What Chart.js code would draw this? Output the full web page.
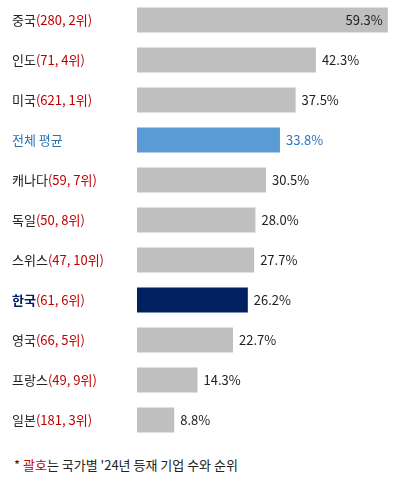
<!DOCTYPE html>
<html><head><meta charset="utf-8">
<script src="https://cdn.jsdelivr.net/npm/chart.js@4"></script>
<style>
body{margin:0;background:#fff;font-family:"Noto Sans CJK KR","Noto Sans",sans-serif;}
#wrap{position:absolute;left:0;top:0;width:408px;height:440px;}
#note{position:absolute;left:14px;top:455px;font-size:13px;color:#222;}
</style></head><body>
<div id="wrap"><canvas id="c"></canvas></div>
<div id="note">* <span style="color:#c00000">괄호</span>는 국가별 '24년 등재 기업 수와 순위</div>
<script>
const names=["중국","인도","미국","전체 평균","캐나다","독일","스위스","한국","영국","프랑스","일본"];
const paren=["(280, 2위)","(71, 4위)","(621, 1위)","","(59, 7위)","(50, 8위)","(47, 10위)","(61, 6위)","(66, 5위)","(49, 9위)","(181, 3위)"];
const values=[59.3,42.3,37.5,33.8,30.5,28.0,27.7,26.2,22.7,14.3,8.8];
const colors=values.map((v,i)=>names[i]==="전체 평균"?"#5b9bd5":names[i]==="한국"?"#002060":"#bfbfbf");
const FONT='"Noto Sans CJK KR",sans-serif';
const labelPlugin={id:'lbl',afterDatasetsDraw(ch){
 const ctx=ch.ctx,y=ch.scales.y,meta=ch.getDatasetMeta(0);
 ctx.save();ctx.textBaseline='middle';ctx.font='13px '+FONT;
 names.forEach((n,i)=>{
  const py=y.getPixelForValue(i);
  let x=12;
  const avg=n==="전체 평균",kr=n==="한국";
  ctx.font=(kr?'bold ':'')+'13px '+FONT;
  ctx.fillStyle=avg?'#2e75b6':kr?'#002060':'#222';
  ctx.textAlign='left';ctx.fillText(n,x,py);
  x+=ctx.measureText(n).width;
  ctx.font='13px '+FONT;ctx.fillStyle='#c00000';ctx.fillText(paren[i],x,py);
  const bar=meta.data[i];const t=values[i].toFixed(1)+'%';
  ctx.fillStyle=avg?'#2e75b6':'#222';
  if(i===0){ctx.textAlign='right';ctx.fillText(t,bar.x-5,py);}
  else{ctx.textAlign='left';ctx.fillText(t,bar.x+6,py);}
 });ctx.restore();}};
new Chart(document.getElementById('c'),{type:'bar',
 data:{labels:names,datasets:[{data:values,backgroundColor:colors,barPercentage:0.62,categoryPercentage:1}]},
 options:{indexAxis:'y',responsive:true,maintainAspectRatio:false,animation:false,
  layout:{padding:{left:137,right:13,top:0,bottom:0}},
  plugins:{legend:{display:false},tooltip:{enabled:false}},
  scales:{x:{display:false,min:0,max:61},y:{display:false}}},
 plugins:[labelPlugin]});
</script></body></html>
